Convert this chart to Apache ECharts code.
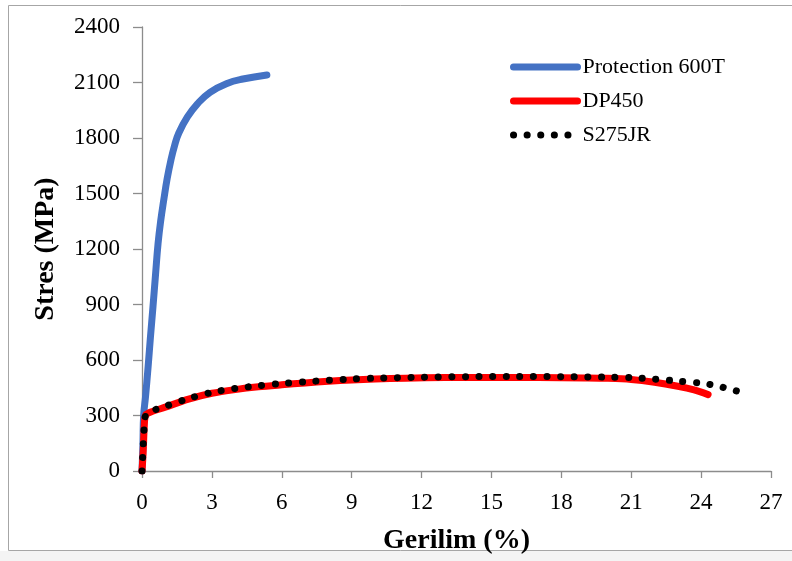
<!DOCTYPE html>
<html>
<head>
<meta charset="utf-8">
<script src="https://cdn.jsdelivr.net/npm/echarts@6/dist/echarts.min.js"></script>
<style>
  html, body { margin: 0; padding: 0; background: #fff; }
  #chart { width: 792px; height: 561px; }
</style>
</head>
<body>
<div id="chart"></div>
<script>
// strain (%), stress (MPa)
var protection600T = [
  [0, 0], [0.04, 150], [0.07, 300], [0.15, 400], [0.26, 560], [0.36, 720],
  [0.47, 886], [0.58, 1060], [0.69, 1230], [0.8, 1350], [0.94, 1470],
  [1.08, 1580], [1.24, 1680], [1.4, 1760], [1.58, 1827], [1.95, 1914],
  [2.38, 1985], [2.92, 2047], [3.65, 2095], [4.33, 2119], [5.36, 2141]
];
var dp450 = [
  [0, 0], [0.05, 100], [0.1, 250], [0.15, 300], [0.3, 315], [1, 345],
  [2, 389], [3, 420], [4, 440], [5, 455], [6, 466], [7, 476], [8, 485],
  [9, 492], [10, 497], [11.3, 502], [13, 505], [15, 506], [17, 505],
  [19, 503], [20, 501], [21, 495], [22, 480], [23, 458], [23.7, 438], [24.3, 413]
];
var s275jr = [
  [0, 0], [0.1, 250], [0.15, 300], [0.3, 318], [1, 350], [2, 392], [3, 425],
  [4, 446], [5, 461], [6, 473], [7, 482], [8, 490], [9, 497], [10, 502],
  [12, 507], [14, 510], [16, 511], [18, 510], [20, 507], [21, 505],
  [22, 497], [23, 486], [24, 475], [24.7, 460], [25.2, 443], [25.7, 427]
];

var serif = '"Liberation Serif", "Times New Roman", serif';
var axisGray = '#8c8c8c';
var plain = function (v) { return String(v); };

var chart = echarts.init(document.getElementById('chart'));
var option = {
  animation: false,
  backgroundColor: '#ffffff',
  graphic: [
    { type: 'rect', z: -10, shape: { x: 0, y: 551, width: 792, height: 10 }, style: { fill: '#f4f4f4' } },
    { type: 'rect', z: -9, shape: { x: 8.5, y: 5.5, width: 800, height: 545 }, style: { fill: 'none', stroke: '#a6a6a6', lineWidth: 1 } }
  ],
  grid: { left: 142, right: 21, top: 27, bottom: 90 },
  legend: {
    orient: 'vertical',
    left: 505,
    top: 51,
    itemWidth: 64,
    itemHeight: 14,
    itemGap: 12,
    itemStyle: { opacity: 0 },
    lineStyle: { width: 7, cap: 'round' },
    textStyle: { fontFamily: serif, fontSize: 22, color: '#000', lineHeight: 22 },
    data: ['Protection 600T', 'DP450', 'S275JR']
  },
  xAxis: {
    type: 'value',
    min: 0, max: 27, interval: 3,
    name: 'Gerilim (%)',
    nameLocation: 'middle',
    nameGap: 56,
    nameTextStyle: { fontFamily: serif, fontSize: 28, fontWeight: 'bold', color: '#000' },
    axisLine: { lineStyle: { color: axisGray, width: 1.3 } },
    axisTick: { inside: false, length: 7, lineStyle: { color: axisGray, width: 1.3 } },
    axisLabel: { margin: 20, fontFamily: serif, fontSize: 23, color: '#000', formatter: plain },
    splitLine: { show: false }
  },
  yAxis: {
    type: 'value',
    min: 0, max: 2400, interval: 300,
    name: 'Stres (MPa)',
    nameLocation: 'middle',
    nameGap: 82,
    nameTextStyle: { fontFamily: serif, fontSize: 28, fontWeight: 'bold', color: '#000' },
    axisLine: { show: true, lineStyle: { color: axisGray, width: 1.3 } },
    axisTick: { show: true, inside: false, length: 9, lineStyle: { color: axisGray, width: 1.3 } },
    axisLabel: { margin: 22, fontFamily: serif, fontSize: 23, color: '#000', formatter: plain },
    splitLine: { show: false }
  },
  series: [
    {
      name: 'Protection 600T',
      type: 'line',
      data: protection600T,
      symbol: 'none',
      smooth: 0.45,
      color: '#4472c4',
      lineStyle: { color: '#4472c4', width: 7, cap: 'round', join: 'round' },
      z: 2
    },
    {
      name: 'DP450',
      type: 'line',
      data: dp450,
      symbol: 'none',
      smooth: 0.3,
      color: '#ff0000',
      lineStyle: { color: '#ff0000', width: 7, cap: 'round', join: 'round' },
      z: 3
    },
    {
      name: 'S275JR',
      type: 'line',
      data: s275jr,
      symbol: 'none',
      smooth: 0.3,
      color: '#000000',
      lineStyle: { color: '#000000', width: 7, type: [0.1, 13.5], cap: 'round', join: 'round' },
      z: 4
    }
  ]
};
chart.setOption(option);
</script>
</body>
</html>
